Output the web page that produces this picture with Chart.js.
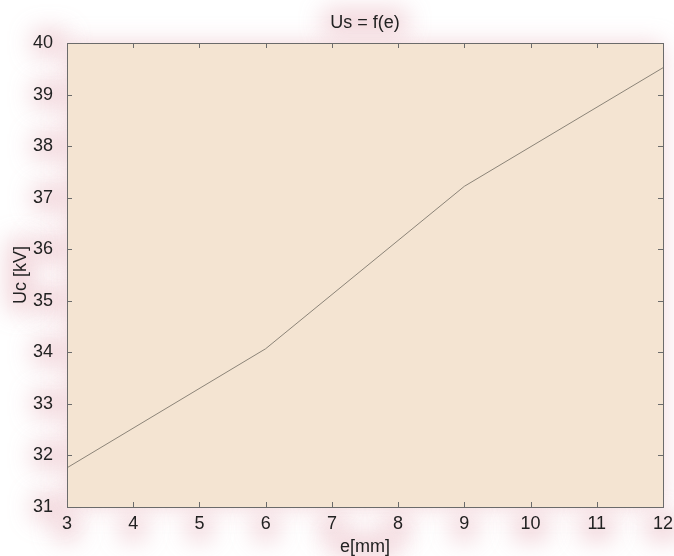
<!DOCTYPE html>
<html>
<head>
<meta charset="utf-8">
<script src="https://cdn.jsdelivr.net/npm/chart.js@4.4.1/dist/chart.umd.min.js"></script>
<style>
  html, body { margin: 0; padding: 0; background: #ffffff; }
  #wrap { width: 674px; height: 556px; }
</style>
</head>
<body>
<div id="wrap"><canvas id="uc"></canvas></div>
<script>
// gap e in mm and the matching voltage in kV
const gapMm = [3, 6, 9, 12];
const voltageKv = [31.76, 34.07, 37.22, 39.52];

const xRange = [3, 12];
const yRange = [31, 40];

const FONT = 'Liberation Sans, Arial, Helvetica, sans-serif';
const FONT_SIZE = 18;
const glowColor = 'rgba(236, 196, 204, 0.8)';

// soft blob behind a rectangle: the shape is drawn off-canvas, only its shadow lands
function halo(ctx, x, y, w, h, blur, color) {
  const off = 10000;
  ctx.save();
  ctx.shadowColor = color;
  ctx.shadowBlur = blur;
  ctx.shadowOffsetX = off;
  ctx.fillStyle = '#000';
  ctx.fillRect(x - off, y, w, h);
  ctx.restore();
}

const glowPlugin = {
  id: 'glow',
  beforeDraw(chart) {
    const { ctx, chartArea: a, scales } = chart;
    const pad = 7;
    ctx.save();
    ctx.font = `${FONT_SIZE}px ${FONT}`;

    // halo round the plot box
    halo(ctx, a.left, a.top, a.right - a.left, a.bottom - a.top, 22, 'rgba(236, 196, 204, 0.7)');

    // halos behind the tick labels
    scales.y.ticks.forEach(t => {
      const py = scales.y.getPixelForValue(t.value);
      const w = ctx.measureText(t.label).width;
      halo(ctx, a.left - 7 - w - pad, py - 9 - pad / 2, w + 2 * pad, 18 + pad, 24, glowColor);
    });
    scales.x.ticks.forEach(t => {
      const px = scales.x.getPixelForValue(t.value);
      const w = ctx.measureText(t.label).width;
      halo(ctx, px - w / 2 - pad, a.bottom + 8, w + 2 * pad, 18 + pad, 24, glowColor);
    });

    // halos behind the title and axis titles
    const cx = (a.left + a.right) / 2;
    const cy = (a.top + a.bottom) / 2;
    let w = ctx.measureText('Us = f(e)').width;
    halo(ctx, cx - w / 2 - pad, 10, w + 2 * pad, 24, 24, glowColor);
    w = ctx.measureText('e[mm]').width;
    halo(ctx, cx - w / 2 - pad, 535, w + 2 * pad, 22, 24, glowColor);
    w = ctx.measureText('Uc [kV]').width;
    halo(ctx, 8, cy - w / 2 - pad, 24, w + 2 * pad, 24, glowColor);

    // plot area fill
    ctx.fillStyle = '#f4e4d2';
    ctx.fillRect(a.left, a.top, a.right - a.left, a.bottom - a.top);
    ctx.restore();
  },
  afterDatasetsDraw(chart) {
    const { ctx, chartArea: a, scales } = chart;
    const len = 5;
    ctx.save();
    ctx.strokeStyle = '#6b6b6b';
    ctx.lineWidth = 1;
    ctx.beginPath();
    scales.x.ticks.forEach(t => {
      const px = Math.round(scales.x.getPixelForValue(t.value)) + 0.5;
      ctx.moveTo(px, a.bottom); ctx.lineTo(px, a.bottom - len);
      ctx.moveTo(px, a.top); ctx.lineTo(px, a.top + len);
    });
    scales.y.ticks.forEach(t => {
      const py = Math.round(scales.y.getPixelForValue(t.value)) + 0.5;
      ctx.moveTo(a.left, py); ctx.lineTo(a.left + len, py);
      ctx.moveTo(a.right, py); ctx.lineTo(a.right - len, py);
    });
    ctx.stroke();
    ctx.strokeRect(Math.round(a.left) + 0.5, Math.round(a.top) + 0.5,
      Math.round(a.right - a.left), Math.round(a.bottom - a.top));
    ctx.restore();
  }
};

new Chart(document.getElementById('uc'), {
  type: 'line',
  data: {
    datasets: [{
      data: gapMm.map((x, i) => ({ x, y: voltageKv[i] })),
      borderColor: '#8c8478',
      borderWidth: 1,
      pointRadius: 0,
      tension: 0,
      fill: false
    }]
  },
  options: {
    responsive: true,
    maintainAspectRatio: false,
    animation: false,
    layout: { padding: { left: 0, right: 11, top: 0, bottom: 0 } },
    plugins: {
      legend: { display: false },
      tooltip: { enabled: false },
      title: {
        display: true,
        fullSize: false,
        text: 'Us = f(e)',
        color: '#222',
        font: { family: FONT, size: FONT_SIZE, weight: 'normal', lineHeight: '18px' },
        padding: { top: 14, bottom: 11 }
      }
    },
    scales: {
      x: {
        type: 'linear',
        min: xRange[0],
        max: xRange[1],
        grid: { display: false },
        border: { display: false },
        ticks: {
          stepSize: 1,
          color: '#222',
          padding: -2,
          maxRotation: 0,
          font: { family: FONT, size: FONT_SIZE }
        },
        title: {
          display: true,
          text: 'e[mm]',
          color: '#222',
          font: { family: FONT, size: FONT_SIZE, lineHeight: '18px' },
          padding: { top: 0, bottom: 0 }
        },
        afterFit(s) { s.height = 49; }
      },
      y: {
        type: 'linear',
        min: yRange[0],
        max: yRange[1],
        grid: { display: false },
        border: { display: false },
        ticks: {
          stepSize: 1,
          color: '#222',
          padding: 6,
          font: { family: FONT, size: FONT_SIZE }
        },
        title: {
          display: true,
          text: 'Uc [kV]',
          color: '#222',
          font: { family: FONT, size: FONT_SIZE, lineHeight: '18px' },
          padding: { top: 12, bottom: 0 }
        },
        afterFit(s) { s.width = 67; }
      }
    }
  },
  plugins: [glowPlugin]
});
</script>
</body>
</html>
